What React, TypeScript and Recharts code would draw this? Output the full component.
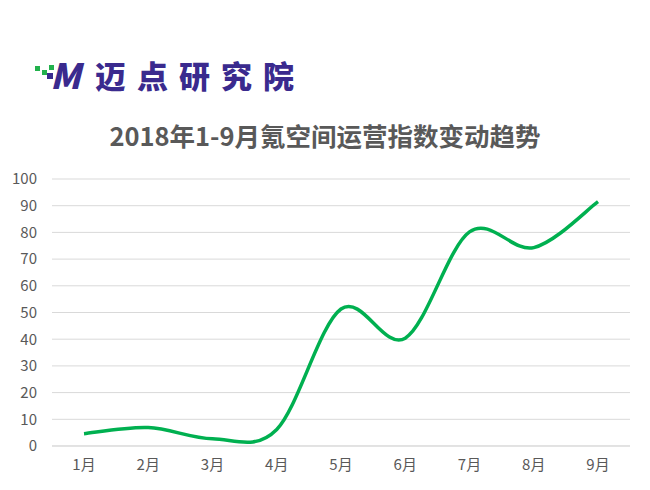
import React from 'react';
import { LineChart, Line, XAxis, YAxis, CartesianGrid } from 'recharts';

const months = ['1月', '2月', '3月', '4月', '5月', '6月', '7月', '8月', '9月'];
const indexValues = [4.6, 6.9, 2.7, 6.2, 51.3, 40.4, 80.2, 74.3, 91.5];
const yTicks = [0, 10, 20, 30, 40, 50, 60, 70, 80, 90, 100];

const data = months.map((m, i) => ({ month: m, value: indexValues[i] }));

// smooth curve like the office chart one (catmull-rom through every point)
const officeSmooth = (context: any) => {
  let pts: number[][] = [];
  return {
    areaStart() {},
    areaEnd() {},
    lineStart() {
      pts = [];
    },
    point(x: number, y: number) {
      pts.push([+x, +y]);
    },
    lineEnd() {
      const n = pts.length;
      if (!n) return;
      context.moveTo(pts[0][0], pts[0][1]);
      for (let i = 0; i < n - 1; i++) {
        const p0 = pts[Math.max(i - 1, 0)];
        const p1 = pts[i];
        const p2 = pts[i + 1];
        const p3 = pts[Math.min(i + 2, n - 1)];
        context.bezierCurveTo(
          p1[0] + (p2[0] - p0[0]) / 6,
          p1[1] + (p2[1] - p0[1]) / 6,
          p2[0] - (p3[0] - p1[0]) / 6,
          p2[1] - (p3[1] - p1[1]) / 6,
          p2[0],
          p2[1]
        );
      }
    },
  };
};

const font = '"Noto Sans CJK SC", "Noto Sans", sans-serif';
const purple = '#3a2a8e';
const green = '#22b14c';

const Logo: React.FC = () => (
  <div style={{ position: 'absolute', left: 34, top: 58, height: 36, width: 270 }}>
    <div style={{ position: 'absolute', left: 1, top: 8, width: 5, height: 5, background: green }} />
    <div style={{ position: 'absolute', left: 8, top: 12, width: 5, height: 5, background: green }} />
    <div style={{ position: 'absolute', left: 15, top: 7, width: 5, height: 5, background: green }} />
    <div style={{ position: 'absolute', left: 13, top: 15, width: 6, height: 6, background: purple }} />
    <span
      style={{
        position: 'absolute',
        left: 16,
        top: -4,
        fontFamily: font,
        fontWeight: 900,
        fontStyle: 'italic',
        fontSize: 35,
        color: purple,
        lineHeight: '40px',
      }}
    >
      M
    </span>
    <span
      style={{
        position: 'absolute',
        left: 61,
        top: -3,
        fontFamily: font,
        fontWeight: 900,
        fontSize: 31,
        letterSpacing: 11,
        color: purple,
        lineHeight: '40px',
        whiteSpace: 'nowrap',
      }}
    >
      迈点研究院
    </span>
  </div>
);

const App: React.FC = () => {
  return (
    <div style={{ position: 'absolute', left: 0, top: 0, width: 650, height: 490, background: '#fff' }}>
      <Logo />
      <div
        style={{
          position: 'absolute',
          left: 0,
          top: 118,
          width: 650,
          textAlign: 'center',
          fontFamily: font,
          fontWeight: 700,
          fontSize: 25.5,
          color: '#595959',
          lineHeight: '34px',
        }}
      >
        2018年1-9月氪空间运营指数变动趋势
      </div>
      <LineChart
        width={650}
        height={490}
        data={data}
        margin={{ top: 179, right: 20, bottom: 14, left: 12 }}
        style={{ position: 'absolute', left: 0, top: 0 }}
      >
        <CartesianGrid vertical={false} stroke="#d9d9d9" />
        <XAxis
          dataKey="month"
          height={30}
          padding={{ left: 32, right: 32 }}
          axisLine={{ stroke: '#d9d9d9' }}
          tickLine={false}
          tickMargin={7}
          tick={{ fill: '#595959', fontSize: 15, fontFamily: font }}
        />
        <YAxis
          width={40}
          domain={[0, 100]}
          ticks={yTicks}
          axisLine={false}
          tickLine={false}
          tickMargin={9}
          tick={{ fill: '#595959', fontSize: 15, fontFamily: font }}
        />
        <Line
          dataKey="value"
          type={officeSmooth as any}
          stroke="#00b050"
          strokeWidth={3.5}
          dot={false}
          activeDot={false}
          isAnimationActive={false}
        />
      </LineChart>
    </div>
  );
};

export default App;
